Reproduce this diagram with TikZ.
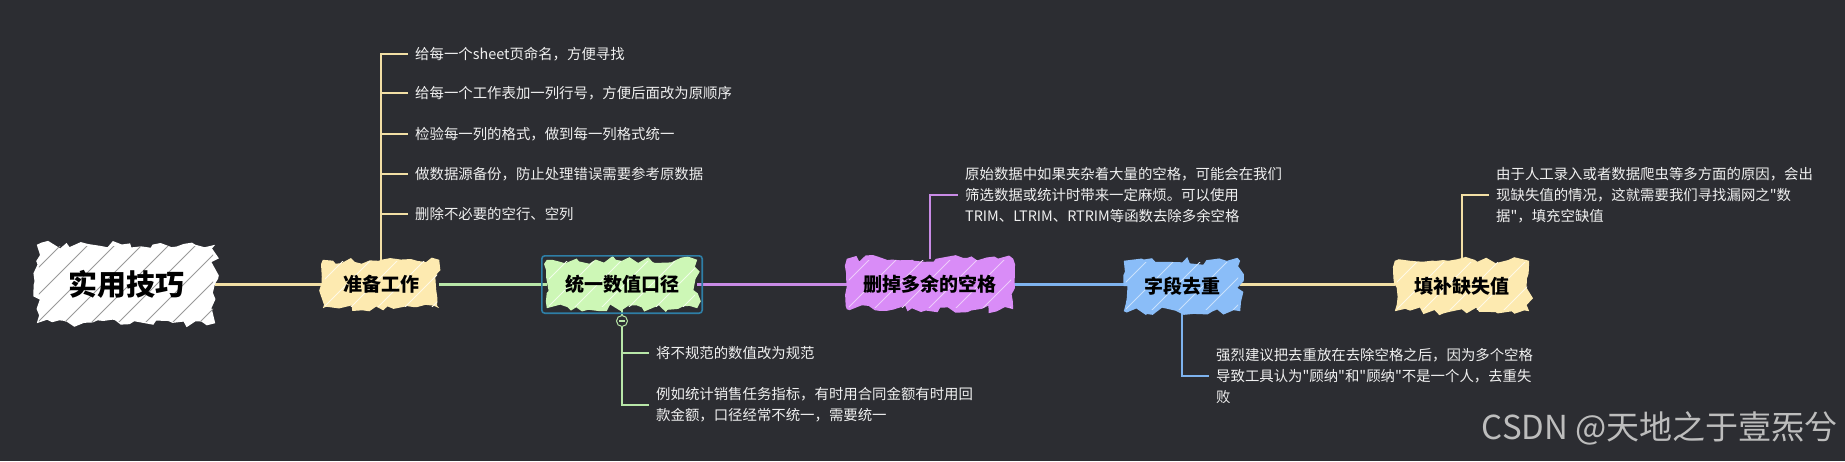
\documentclass[tikz,border=0pt]{standalone}
\usepackage{fontspec}
\newfontfamily\cjk{Noto Sans CJK SC}
\usetikzlibrary{decorations.pathmorphing,calc}
\pgfdeclarelayer{bgl}
\pgfdeclarelayer{edges}
\pgfdeclarelayer{fills}
\pgfsetlayers{bgl,edges,fills,main}
\definecolor{bg}{HTML}{2C2D32}
\definecolor{yline}{HTML}{F2DFA5}
\definecolor{yfill}{HTML}{FDEAB0}
\definecolor{gline}{HTML}{B8E6A8}
\definecolor{gfill}{HTML}{CDF7B6}
\definecolor{pline}{HTML}{C98BE6}
\definecolor{pfill}{HTML}{D98CF7}
\definecolor{bline}{HTML}{7EB3EF}
\definecolor{bfill}{HTML}{8ABDF8}
\definecolor{selc}{HTML}{2E7EA6}
\definecolor{wm}{HTML}{BDBDBD}
\tikzset{
  topic/.style={font=\cjk\bfseries\fontsize{19}{22}\selectfont, text=black, inner sep=0pt},
  roottopic/.style={font=\cjk\bfseries\fontsize{29}{34}\selectfont, text=black, inner sep=0pt},
  detail/.style={font=\cjk\fontsize{14.4}{21}\selectfont, text=white!94!black, align=left, anchor=west, inner xsep=7pt, inner ysep=0pt},
  mainline/.style={line width=3pt},
  branch/.style={line width=2.4pt},
  selbox/.style={draw=selc, line width=1.6pt, rounded corners=3pt},
}
\newcommand\sketchfill[3]{%
  \begin{pgfonlayer}{fills}
    \fill[#2, decorate, decoration={random steps,segment length=7pt,amplitude=4pt}]
      (#1.south west) rectangle (#1.north east);
    \begin{scope}
      \clip ($(#1.south west)+(2,-2)$) rectangle ($(#1.north east)+(-2,2)$);
      \foreach \k in {-4,...,9} {
        \draw[#3, line width=0.8pt] ($(#1.south west)+(\k*27,0)$) -- ++(90,-90);
      }
    \end{scope}
  \end{pgfonlayer}}
\begin{document}
\begin{tikzpicture}[x=1pt,y=-1pt]
\pgfmathsetseed{42}
\begin{pgfonlayer}{bgl}
\fill[bg] (0,0) rectangle (1845,461);
\end{pgfonlayer}
\useasboundingbox (0,0) rectangle (1845,461);

% topics
\node[roottopic, minimum width=178pt, minimum height=78pt] (root) at (126,284) {实用技巧};
\node[topic, minimum width=116pt, minimum height=48pt] (prep) at (381,284) {准备工作};
\node[topic, minimum width=150pt, minimum height=48pt] (uni) at (622,284) {统一数值口径};
\node[topic, minimum width=166pt, minimum height=50pt] (del) at (930,284) {删掉多余的空格};
\node[topic, minimum width=116pt, minimum height=50pt] (zd) at (1182,286) {字段去重};
\node[topic, minimum width=134pt, minimum height=50pt] (tb) at (1462,286) {填补缺失值};

\sketchfill{root}{white}{gray!80}
\sketchfill{prep}{yfill}{white!70!yfill}
\sketchfill{uni}{gfill}{white!70!gfill}
\sketchfill{del}{pfill}{white!55!pfill}
\sketchfill{zd}{bfill}{white!55!bfill}
\sketchfill{tb}{yfill}{white!70!yfill}

\draw[selbox] ($(uni.south west)+(-5,5)$) rectangle ($(uni.north east)+(5,-4)$);

% details
\node[detail] (p1) at (408,54) {给每一个sheet页命名，方便寻找};
\node[detail] (p2) at (408,93) {给每一个工作表加一列行号，方便后面改为原顺序};
\node[detail] (p3) at (408,134) {检验每一列的格式，做到每一列格式统一};
\node[detail] (p4) at (408,174) {做数据源备份，防止处理错误需要参考原数据};
\node[detail] (p5) at (408,214) {删除不必要的空行、空列};

\node[circle, draw=gline, fill=bg, line width=1pt, minimum size=11pt, inner sep=0pt] (col) at (622,321) {};
\node[detail] (u1) at (649,353) {将不规范的数值改为规范};
\node[detail] (u2) at (649,405) {例如统计销售任务指标，有时用合同金额有时用回\\款金额，口径经常不统一，需要统一};

\node[detail] (d1) at (958,195) {原始数据中如果夹杂着大量的空格，可能会在我们\\筛选数据或统计时带来一定麻烦。可以使用\\TRIM、LTRIM、RTRIM等函数去除多余空格};
\node[detail] (z1) at (1209,376) {强烈建议把去重放在去除空格之后，因为多个空格\\导致工具认为"顾纳"和"顾纳"不是一个人，去重失\\败};
\node[detail] (t1) at (1489,195) {由于人工录入或者数据爬虫等多方面的原因，会出\\现缺失值的情况，这就需要我们寻找漏网之"数\\据"，填充空缺值};

\node[font=\cjk\fontsize{33}{36}\selectfont, text=wm, anchor=east, inner sep=0pt] (wmk) at (1838,428) {CSDN @天地之于壹炁兮};

% connectors
\begin{pgfonlayer}{edges}
\draw[mainline, yline] (root) -- (prep);
\draw[mainline, gline] (prep) -- (uni);
\draw[mainline, pline] (uni) -- (del);
\draw[mainline, bline] (del.east |- uni.east) -- (zd.west |- uni.east);
\draw[mainline, yline] (zd.east |- uni.east) -- (tb.west |- uni.east);
\foreach \c in {p1,p2,p3,p4,p5} {\draw[branch, yline] (prep.north) |- (\c.west);}
\draw[branch, gline] (uni.south) -- (col.north);
\draw[branch, gline] (col.south) |- (u1.west);
\draw[branch, gline] (col.south) |- (u2.west);
\draw[branch, pline] (del.north) |- (d1.west);
\draw[branch, bline] (zd.south) |- (z1.west);
\draw[branch, yline] (tb.north) |- (t1.west);
\end{pgfonlayer}
\draw[gline, line width=1.2pt] ($(col.center)+(-3,0)$) -- ($(col.center)+(3,0)$);
\end{tikzpicture}
\end{document}
